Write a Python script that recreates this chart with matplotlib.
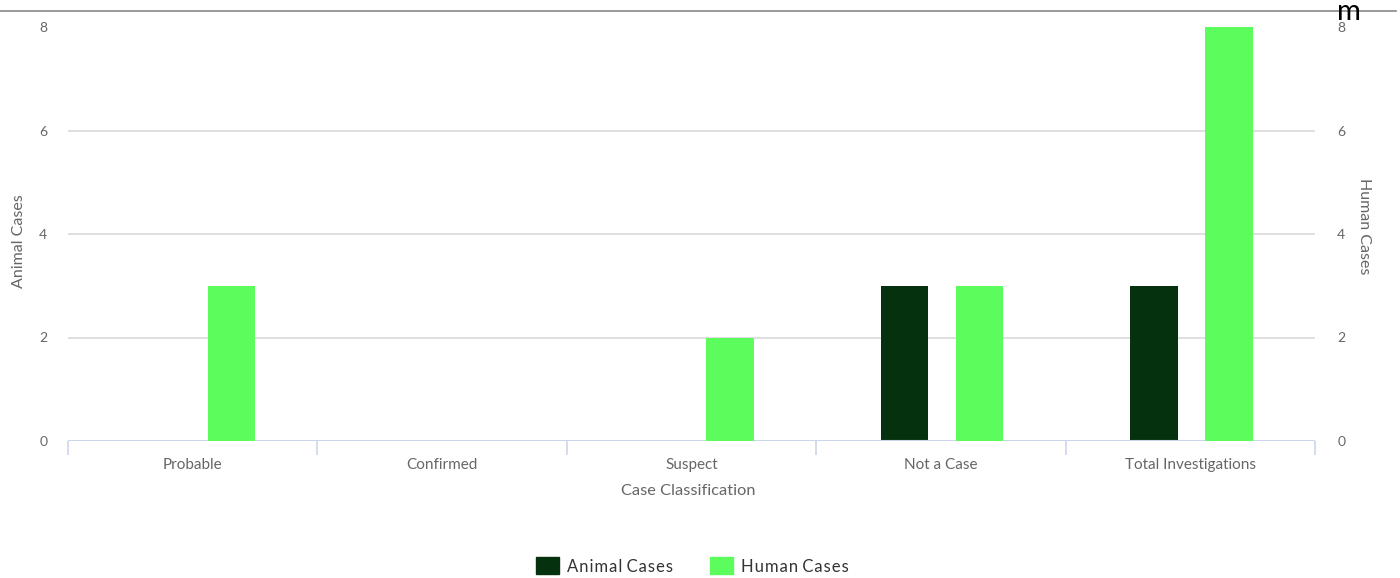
import matplotlib
matplotlib.use("Agg")
import matplotlib.pyplot as plt
from matplotlib.patches import Rectangle
from matplotlib.lines import Line2D
import numpy as np

categories = ["Probable", "Confirmed", "Suspect", "Not a Case", "Total Investigations"]
animal_cases = [0, 0, 0, 3, 3]
human_cases = [3, 0, 2, 3, 8]
y_ticks = [0, 2, 4, 6, 8]

ANIMAL_COLOR = "#06310f"
HUMAN_COLOR = "#5bfc5b"
TEXT_GRAY = "#666666"
FONT = ["Lato", "DejaVu Sans"]

W, H = 1400, 578
fig = plt.figure(figsize=(W / 100, H / 100), dpi=100)

left, right, top, bottom = 68, 1315, 27, 441
pw, ph = right - left, bottom - top
ax = fig.add_axes([left / W, 1 - bottom / H, pw / W, ph / H])
ax2 = ax.twinx()

x = np.arange(len(categories))
bw = 0.19
ax.bar(x - 0.146, animal_cases, width=bw, color=ANIMAL_COLOR, zorder=3)
ax2.bar(x + 0.155, human_cases, width=bw, color=HUMAN_COLOR, zorder=3)

for a in (ax, ax2):
    a.set_xlim(-0.5, len(categories) - 0.5)
    a.set_ylim(0, 8)
    a.set_yticks(y_ticks)
    for s in a.spines.values():
        s.set_visible(False)

# gridlines (except top)
for v in y_ticks[1:-1]:
    ax.axhline(v, color="#d9d9d9", lw=1.2, zorder=1)
ax.axhline(0, color="#ccd6eb", lw=1.5, zorder=4)

ax.set_yticklabels([str(v) for v in y_ticks], fontsize=10, color=TEXT_GRAY, family=FONT)
ax2.set_yticklabels([str(v) for v in y_ticks], fontsize=10, color=TEXT_GRAY, family=FONT)
ax.tick_params(axis="y", length=0, pad=15)
ax2.tick_params(axis="y", length=0, pad=16)

# x ticks at boundaries, labels at centers
ax.set_xticks(np.arange(len(categories) + 1) - 0.5)
ax.set_xticklabels([])
ax.tick_params(axis="x", length=10, width=1.2, color="#ccd6eb", direction="out")
ax.set_xticks(x, minor=True)
ax.set_xticklabels(categories, minor=True, fontsize=11, color=TEXT_GRAY, family=FONT)
ax.tick_params(axis="x", which="minor", length=0, pad=12)
ax2.tick_params(axis="x", length=0)

ax.set_xlabel("Case Classification", fontsize=11.8, color=TEXT_GRAY, family=FONT)
ax.xaxis.set_label_coords(0.4975, -(491 - bottom) / ph, transform=ax.transAxes)
ax.xaxis.label.set_va("center")
ax.set_ylabel("Animal Cases", fontsize=11.5, color=TEXT_GRAY, family=FONT)
ax.yaxis.set_label_coords((19 - left) / pw, (bottom - 241) / ph)
ax.yaxis.label.set_va("center")
ax2.set_ylabel("Human Cases", fontsize=11.5, color=TEXT_GRAY, family=FONT, rotation=270)
ax2.yaxis.set_label_coords((1364 - left) / pw, (bottom - 226) / ph)
ax2.yaxis.label.set_va("center")

# top border line and stray glyph
fig.add_artist(Line2D([0, 0.997], [1 - 11 / H, 1 - 11 / H], color="#888888", lw=1.2))
fig.text(1349 / W, 1 - 19.5 / H, "m", fontsize=21, color="black", ha="center", va="baseline", family=FONT)

# legend
def legend_item(x0, label, color):
    fig.add_artist(Rectangle((x0 / W, 1 - 574 / H), 23 / W, 17 / H, color=color, transform=fig.transFigure))
    fig.text((x0 + 31) / W, 1 - 567 / H, label, fontsize=12, color="#333333", ha="left", va="center", family=FONT)

legend_item(536, "A n i m a l  C a s e s".replace(" ", "\u200a").replace("\u200a\u200a", " "), ANIMAL_COLOR)
legend_item(710, "H u m a n  C a s e s".replace(" ", "\u200a").replace("\u200a\u200a", " "), HUMAN_COLOR)

fig.savefig("out.png", dpi=100)
